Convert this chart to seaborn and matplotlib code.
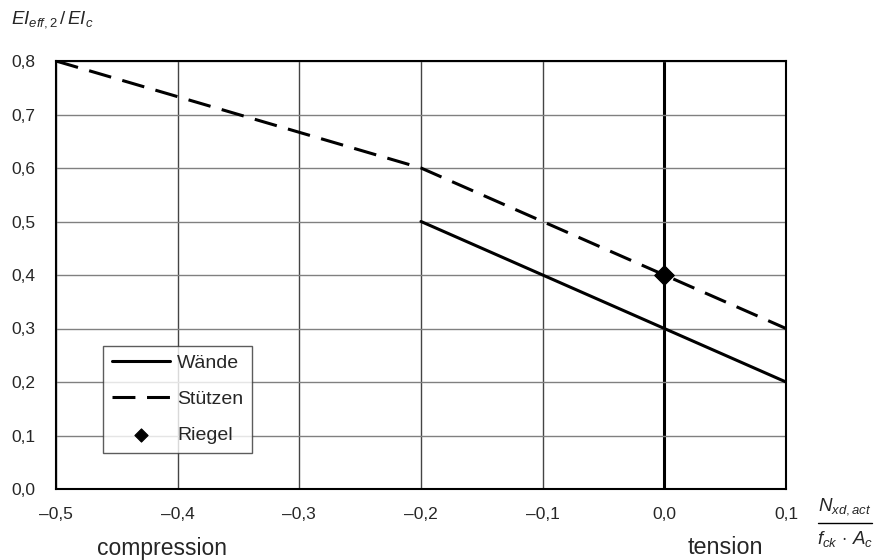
import matplotlib
matplotlib.use("Agg")
import matplotlib.pyplot as plt
import seaborn as sns
import pandas as pd

sns.set_theme(style="white")
plt.rcParams['font.family'] = ['Liberation Sans', 'DejaVu Sans']
plt.rcParams['mathtext.fontset'] = 'custom'
plt.rcParams['mathtext.rm'] = 'Liberation Sans'
plt.rcParams['mathtext.it'] = 'Liberation Sans:italic'
plt.rcParams['mathtext.bf'] = 'Liberation Sans:bold'

waende_x = [-0.2, 0.1]
waende_y = [0.5, 0.2]
stuetzen_x = [-0.5, -0.2, 0.1]
stuetzen_y = [0.8, 0.6, 0.3]
riegel_x = [0.0]
riegel_y = [0.4]
xticks = [-0.5, -0.4, -0.3, -0.2, -0.1, 0.0, 0.1]
xticklabels = ['\u20130,5', '\u20130,4', '\u20130,3', '\u20130,2', '\u20130,1', '0,0', '0,1']
yticks = [0.0, 0.1, 0.2, 0.3, 0.4, 0.5, 0.6, 0.7, 0.8]
yticklabels = ['0,0', '0,1', '0,2', '0,3', '0,4', '0,5', '0,6', '0,7', '0,8']

W, H = 874, 560
fig = plt.figure(figsize=(8.74, 5.6), dpi=100)
ax = fig.add_axes([56/W, 1-489/H, (786-56)/W, (489-61)/H])

for t in xticks:
    ax.axvline(t, color='#444444' if t != 0.0 else 'black', lw=1.0 if t != 0.0 else 2.2, zorder=1)
for t in yticks:
    ax.axhline(t, color='#808080', lw=1.0, zorder=1)

dw = pd.DataFrame({'x': waende_x, 'y': waende_y})
ds = pd.DataFrame({'x': stuetzen_x, 'y': stuetzen_y})
sns.lineplot(data=dw, x='x', y='y', ax=ax, color='black', lw=2.2, label='Wände', zorder=3)
sns.lineplot(data=ds, x='x', y='y', ax=ax, color='black', lw=2.2, label='Stützen', zorder=3,
             dashes=False)
ax.lines[-1].set_dashes([7.5, 3.8])
sns.scatterplot(x=riegel_x, y=riegel_y, ax=ax, marker='D', s=100, color='black', label='Riegel',
                zorder=4, edgecolor='black')

ax.set_xlim(-0.5, 0.1)
ax.set_ylim(0.0, 0.8)
ax.set_xticks(xticks)
ax.set_xticklabels(xticklabels, fontsize=12.5)
ax.set_yticks(yticks)
ax.set_yticklabels(yticklabels, fontsize=12.5)
ax.tick_params(axis='x', length=0, pad=13)
ax.tick_params(axis='y', length=0, pad=14.5)
ax.set_xlabel('')
ax.set_ylabel('')
for s in ax.spines.values():
    s.set_color('black')
    s.set_linewidth(1.5)
    s.set_visible(True)

leg = ax.legend(loc='lower left', bbox_to_anchor=((103-56)/730, (489-453)/428), borderaxespad=0,
                fontsize=14, frameon=True, fancybox=False, edgecolor='#333333',
                handlelength=3.0, borderpad=0.45, labelspacing=0.95, handletextpad=0.35)
leg.get_frame().set_linewidth(1.0)
leg.set_zorder(5)
for h in leg.legend_handles:
    if hasattr(h, 'set_sizes'):
        h.set_sizes([45])

fig.text(11/W, 1-20/H, r'$EI_{eff,2}\,/\,EI_c$', fontsize=13.5, ha='left', va='center')
fig.text(162/W, 1-548/H, 'compression', fontsize=16.5, ha='center', va='center')
fig.text(725/W, 1-548/H, 'tension', fontsize=16.8, ha='center', va='center')
fig.text(845/W, 1-507/H, r'$N_{xd,act}$', fontsize=13.5, ha='center', va='center')
fig.text(845/W, 1-539/H, r'$f_{ck}\,\cdot\,A_c$', fontsize=13.5, ha='center', va='center')
fig.add_artist(plt.Line2D([818/W, 872/W], [1-523/H, 1-523/H], color='black', lw=1.0,
                          transform=fig.transFigure))

fig.savefig('out.png', dpi=100, facecolor='white')
